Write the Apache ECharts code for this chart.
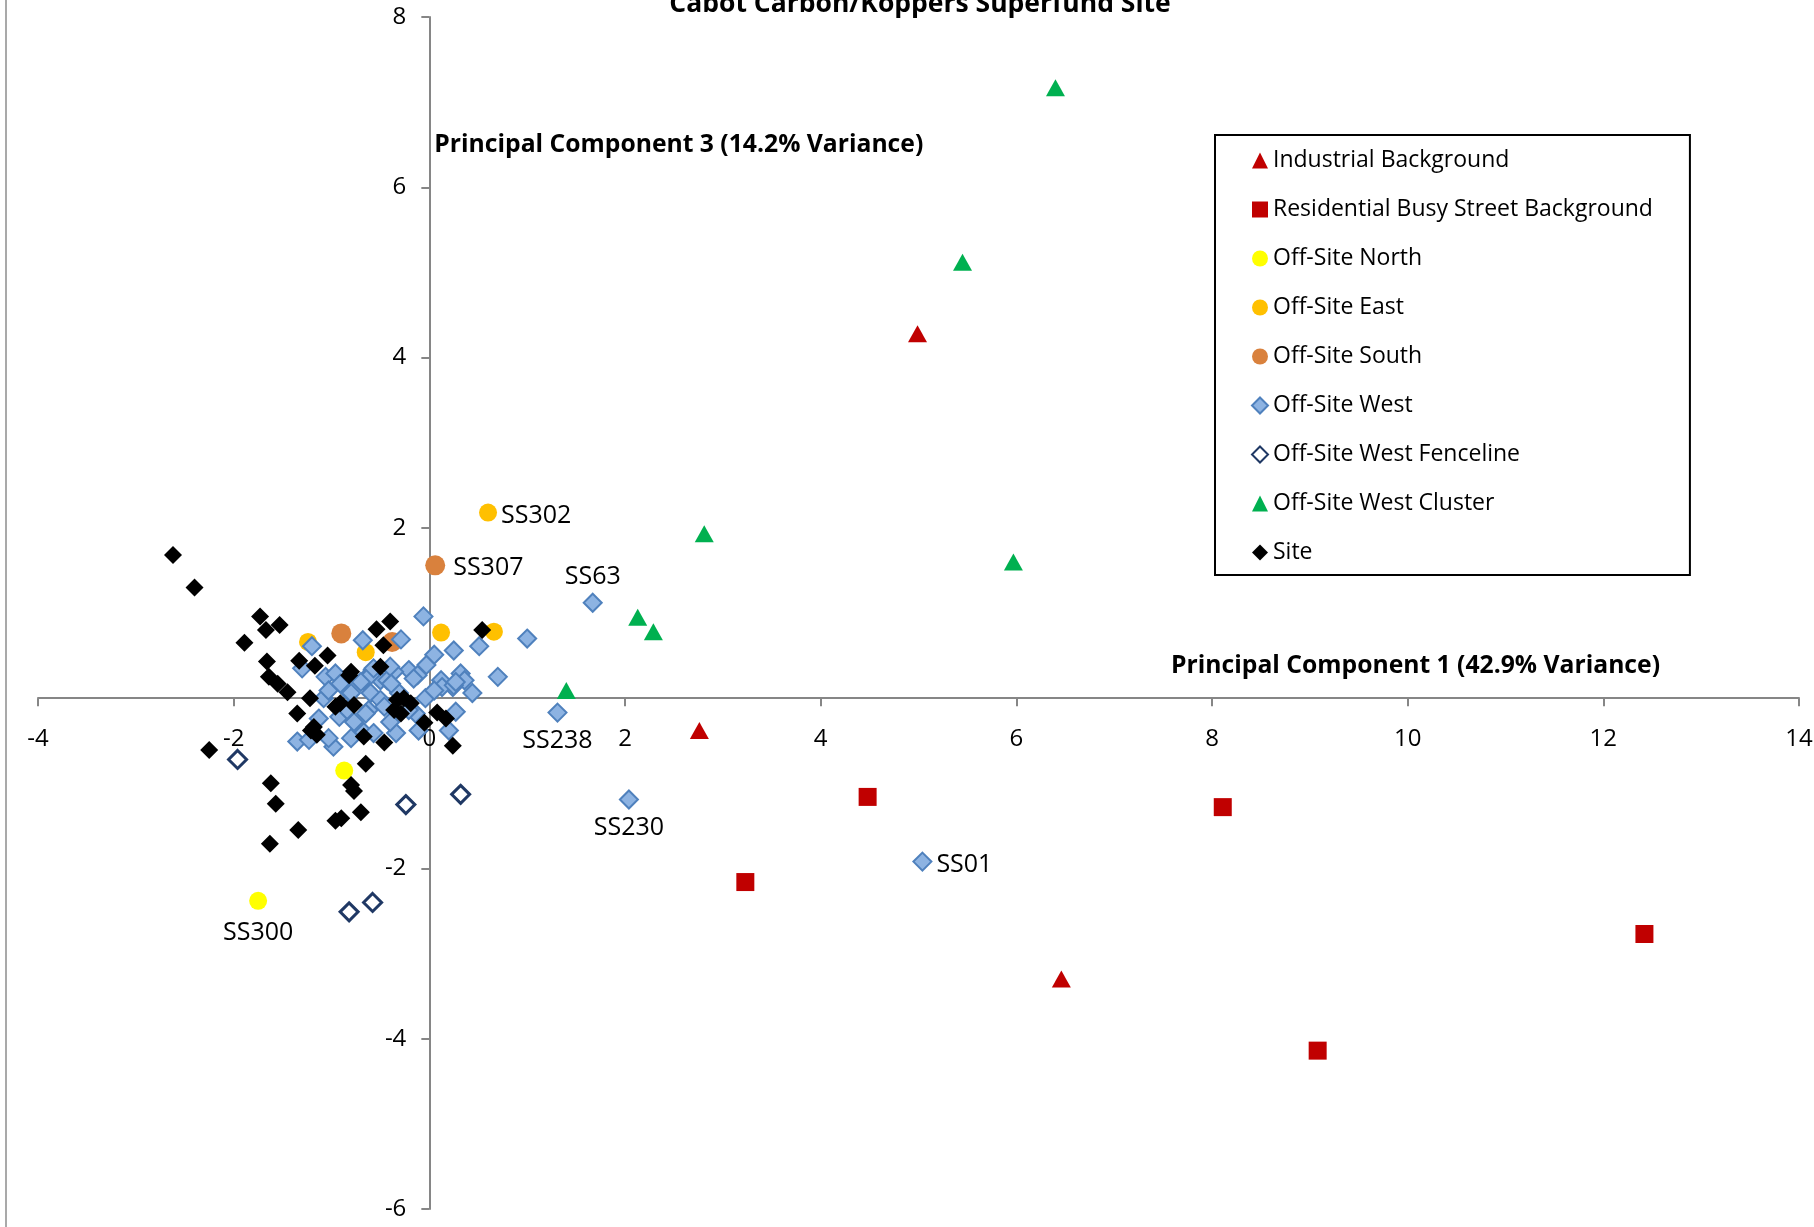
<!DOCTYPE html>
<html>
<head>
<meta charset="UTF-8">
<title>Cabot Carbon/Koppers Superfund Site</title>
<script src="https://cdn.jsdelivr.net/npm/echarts@6/dist/echarts.min.js"></script>
<style>
  html, body { margin: 0; padding: 0; background: #fff; }
  #main { width: 1814px; height: 1227px; }
</style>
</head>
<body>
<div id="main"></div>
<script type="text/javascript">
// PCA scores: PC1 on x, PC3 on y
var industrialX = [4.99, 2.76, 6.46];
var industrialY = [4.28, -0.38, -3.30];

var residentialX = [4.48, 3.23, 8.11, 9.08, 12.42];
var residentialY = [-1.16, -2.16, -1.28, -4.14, -2.77];

var northX = [-1.75, -0.87];
var northY = [-2.38, -0.85];
var northNames = ['SS300', ''];

var eastX = [0.60, 0.12, 0.66, -1.24, -0.65];
var eastY = [2.18, 0.77, 0.78, 0.66, 0.54];
var eastNames = ['SS302', '', '', '', ''];

var southX = [0.06, -0.90, -0.38];
var southY = [1.56, 0.76, 0.66];
var southNames = ['SS307', '', ''];

var westX = [1.67, 1.31, 2.04, 5.04,
  -0.06, 1.00, -1.20, -0.68, -0.29, 0.25, 0.51, 0.05, 0.70, -0.03,
  -0.21, -0.36, -0.58, -0.50, -0.12, 0.12, 0.32, 0.36, 0.44, 0.24,
  -1.06, -0.96, -1.30, -0.82, -0.91, -1.08, -0.67, -0.60, -0.43, -0.31,
  -0.50, -0.04, 0.13, 0.27, 0.20, -1.13, -0.92, -0.77, -0.62, -0.67,
  -0.57, -0.34, -0.40, -0.14, -0.11, -1.35, -1.23, -0.98, -1.03, -0.80,
  -0.46, -0.40, -0.65, -0.84, -0.39, -0.16, -0.21, 0.25, -0.60, -0.70,
  -1.03, 0.27, 0.05, -0.57, -0.80];
var westY = [1.12, -0.17, -1.19, -1.92,
  0.96, 0.70, 0.61, 0.68, 0.69, 0.56, 0.61, 0.51, 0.25, 0.39,
  0.33, 0.31, 0.33, 0.21, 0.27, 0.21, 0.29, 0.21, 0.06, 0.13,
  0.25, 0.29, 0.35, 0.07, 0.17, 0.00, 0.21, 0.06, 0.21, 0.06,
  -0.02, 0.00, 0.13, -0.16, -0.38, -0.24, -0.22, -0.28, -0.14, -0.40,
  -0.41, -0.41, -0.28, -0.18, -0.38, -0.51, -0.49, -0.57, -0.47, -0.47,
  -0.10, 0.37, -0.18, -0.14, 0.17, 0.23, -0.14, 0.15, 0.27, 0.19,
  0.09, 0.19, 0.09, 0.35, 0.06];
var westNames = ['SS63', 'SS238', 'SS230', 'SS01'];

var fenceX = [-1.96, -0.24, 0.32, -0.82, -0.58];
var fenceY = [-0.72, -1.25, -1.13, -2.51, -2.40];

var clusterX = [6.40, 5.45, 5.97, 2.81, 2.13, 2.29, 1.40];
var clusterY = [7.17, 5.12, 1.60, 1.93, 0.95, 0.78, 0.09];

var siteX = [-2.62, -2.40, -1.73, -1.67, -1.53, -1.89, -1.66, -1.64, -1.55, -1.45,
  -1.33, -1.17, -1.04, -0.80, -0.54, -0.40, -0.47, -0.50, 0.54, -1.22,
  -1.35, -0.96, -0.91, -0.77, -0.33, -0.26, -0.19, -0.36, -0.29, -0.05,
  0.08, 0.17, 0.24, -0.46, -0.67, -1.21, -1.15, -1.18, -0.65, -2.25,
  -1.62, -1.57, -1.34, -1.63, -0.80, -0.77, -0.70, -0.96, -0.90, -0.82];
var siteY = [1.68, 1.30, 0.96, 0.80, 0.86, 0.65, 0.43, 0.25, 0.17, 0.07,
  0.44, 0.38, 0.50, 0.31, 0.81, 0.90, 0.62, 0.37, 0.80, 0.00,
  -0.18, -0.10, -0.06, -0.08, -0.02, 0.00, -0.06, -0.14, -0.18, -0.29,
  -0.17, -0.24, -0.56, -0.52, -0.45, -0.38, -0.43, -0.34, -0.77, -0.61,
  -1.00, -1.24, -1.55, -1.71, -1.02, -1.09, -1.34, -1.44, -1.41, 0.27];

var xTicks = { min: -4, max: 14, interval: 2 };
var yTicks = { min: -6, max: 8, interval: 2 };

var FONT = 'Open Sans';

// plot area in pixels, the axes cross at (0, 0) inside it
var GRID = { left: 38, right: 15, top: 17, bottom: 18 };
var plotW = 1814 - GRID.left - GRID.right;
var plotH = 1227 - GRID.top - GRID.bottom;
var xZeroOffset = -plotW * (0 - xTicks.min) / (xTicks.max - xTicks.min);
var yZeroOffset = -plotH * (0 - yTicks.min) / (yTicks.max - yTicks.min);

// where each sample label sits next to its marker
var labelPlace = {
  SS302: { position: 'right', distance: 4, offset: [0, 3] },
  SS307: { position: 'right', distance: 8, offset: [0, 3] },
  SS63: { position: 'top', distance: 3, offset: [0, 0] },
  SS238: { position: 'bottom', distance: 6, offset: [0, 0] },
  SS230: { position: 'bottom', distance: 6, offset: [0, 0] },
  SS01: { position: 'right', distance: 4, offset: [0, 3] },
  SS300: { position: 'bottom', distance: 11, offset: [0, 0] }
};

function points(xs, ys, names) {
  return xs.map(function (x, i) {
    var name = names && names[i];
    if (!name) return [x, ys[i]];
    return {
      value: [x, ys[i]],
      label: {
        show: true,
        formatter: name,
        position: labelPlace[name].position,
        distance: labelPlace[name].distance,
        offset: labelPlace[name].offset,
        fontFamily: FONT,
        fontSize: 25,
        color: '#000'
      }
    };
  });
}

function scatter(name, data, symbol, size, style) {
  style.opacity = 1;
  return {
    name: name,
    type: 'scatter',
    data: data,
    symbol: symbol,
    symbolSize: size,
    itemStyle: style,
    emphasis: { disabled: true }
  };
}

var axisGray = '#868686';

var myChart = echarts.init(document.getElementById('main'));

myChart.setOption({
  animation: false,
  backgroundColor: '#fff',
  textStyle: { fontFamily: FONT },
  title: {
    text: 'Cabot Carbon/Koppers Superfund Site',
    left: 915,
    textAlign: 'center',
    top: -14,
    textStyle: { fontFamily: FONT, fontSize: 26.5, fontWeight: 'bold', color: '#000' }
  },
  graphic: [
    { type: 'line', shape: { x1: 6, y1: 0, x2: 6, y2: 1227 }, style: { stroke: '#8c8c8c', lineWidth: 1.5 } }
  ],
  legend: {
    orient: 'vertical',
    left: 1215,
    top: 135,
    padding: [14, 37, 11, 36],
    itemGap: 26,
    itemWidth: 16,
    itemHeight: 16,
    borderColor: '#000',
    borderWidth: 2,
    textStyle: { fontFamily: FONT, fontSize: 23, lineHeight: 23, color: '#000' }
  },
  grid: {
    left: GRID.left, right: GRID.right, top: GRID.top, bottom: GRID.bottom,
    containLabel: false,
    outerBoundsMode: 'none'
  },
  xAxis: {
    type: 'value',
    position: 'bottom',
    offset: yZeroOffset,
    min: xTicks.min,
    max: xTicks.max,
    interval: xTicks.interval,
    name: 'Principal Component 1 (42.9% Variance)',
    nameLocation: 'end',
    nameGap: -139,
    nameTextStyle: {
      fontFamily: FONT, fontSize: 24.7, fontWeight: 'bold', color: '#000',
      align: 'right', verticalAlign: 'bottom', padding: [0, 0, 20, 0]
    },
    splitLine: { show: false },
    axisLine: { onZero: false, lineStyle: { color: axisGray, width: 2 } },
    axisTick: { length: 8, lineStyle: { color: axisGray, width: 2 } },
    axisLabel: { margin: 29, fontFamily: FONT, fontSize: 24, color: '#000' }
  },
  yAxis: {
    type: 'value',
    position: 'left',
    offset: xZeroOffset,
    min: yTicks.min,
    max: yTicks.max,
    interval: yTicks.interval,
    name: 'Principal Component 3 (14.2% Variance)',
    nameLocation: 'end',
    nameGap: -128,
    nameTextStyle: {
      fontFamily: FONT, fontSize: 24.7, fontWeight: 'bold', color: '#000',
      align: 'left', verticalAlign: 'middle', padding: [0, 0, 0, 5]
    },
    splitLine: { show: false },
    axisLine: { onZero: false, lineStyle: { color: axisGray, width: 2 } },
    axisTick: { length: 8, lineStyle: { color: axisGray, width: 2 } },
    axisLabel: { margin: 23, fontFamily: FONT, fontSize: 24, color: '#000' }
  },
  series: [
    scatter('Industrial Background', points(industrialX, industrialY), 'triangle', [19, 17], { color: '#C00000' }),
    scatter('Residential Busy Street Background', points(residentialX, residentialY), 'rect', 18, { color: '#C00000' }),
    scatter('Off-Site North', points(northX, northY, northNames), 'circle', 18, { color: '#FFFF00' }),
    scatter('Off-Site East', points(eastX, eastY, eastNames), 'circle', 18, { color: '#FFC000' }),
    scatter('Off-Site South', points(southX, southY, southNames), 'circle', 20, { color: '#D9813D' }),
    scatter('Off-Site West', points(westX, westY, westNames), 'diamond', 18,
      { color: '#8DB3E2', borderColor: '#4F81BD', borderWidth: 2 }),
    scatter('Off-Site West Fenceline', points(fenceX, fenceY), 'diamond', 18,
      { color: '#fff', borderColor: '#1F3864', borderWidth: 3 }),
    scatter('Off-Site West Cluster', points(clusterX, clusterY), 'triangle', [19, 17], { color: '#00B050' }),
    scatter('Site', points(siteX, siteY), 'diamond', 18, { color: '#000' })
  ]
});
</script>
</body>
</html>
